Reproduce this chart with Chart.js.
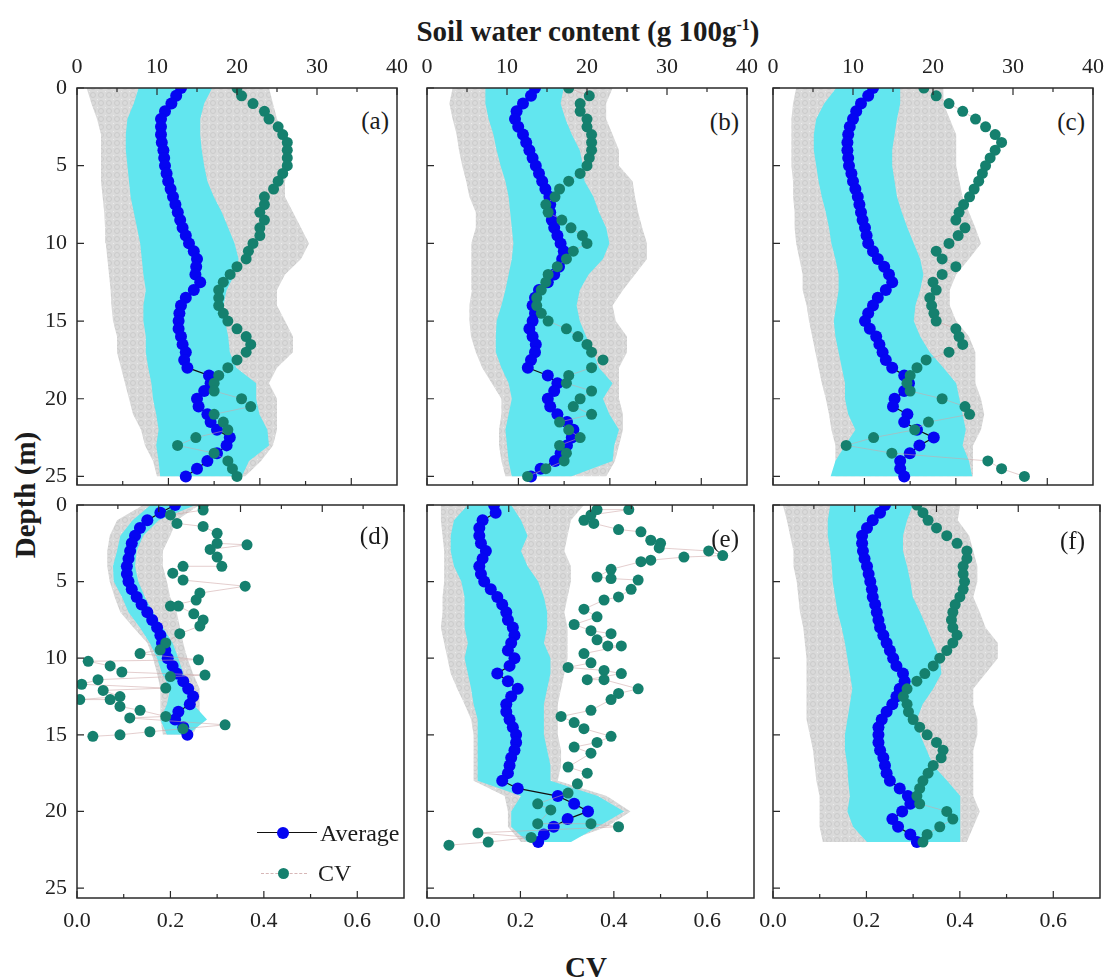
<!DOCTYPE html>
<html>
<head>
<meta charset="utf-8">
<script src="https://cdn.jsdelivr.net/npm/chart.js@4.4.1/dist/chart.umd.min.js"></script>
<style>
  body { margin: 0; background: #fff; }
  #wrap { position: relative; width: 1117px; height: 979px; overflow: hidden; font-family: "Liberation Serif", "Times New Roman", serif; color: #1c1c1c; }
  #wrap canvas { position: absolute; }
  .lab { position: absolute; white-space: nowrap; line-height: 1; }
  .bold { font-weight: bold; font-size: 29px; }
  .plab { font-size: 25px; width: 60px; text-align: right; }
  .leg { position: absolute; }
</style>
</head>
<body>
<div id="wrap">
  <div class="lab bold" style="left:588px; top:17px; transform:translateX(-50%);">Soil water content (g 100g<span style="font-size:16px; position:relative; top:-11px;">-1</span>)</div>
  <div class="lab bold" style="left:25px; top:495px; transform:translate(-50%,-50%) rotate(-90deg);">Depth (m)</div>
  <div class="lab bold" style="left:586px; top:953px; transform:translateX(-50%);">CV</div>
</div>
<script>
// depth grids (m)
const depthHalf = [0,0.5,1,1.5,2,2.5,3,3.5,4,4.5,5,5.5,6,6.5,7,7.5,8,8.5,9,9.5,10,10.5,11,11.5,12,12.5,13,13.5,14,14.5,15,15.5,16,16.5,17,17.5,18,18.5,19,19.5,20,20.5,21,21.5,22,22.5,23,23.5,24,24.5,25];
const depthStep = [0,1,2,3,4,5,6,7,8,9,10,11,12,13,14,15,16,17,18,19,20,21,22,23,24,25];

// axis ticks
const depthTicks = [0,5,10,15,20,25];
const wcTicks = [0,10,20,30,40];
const wcMinor = [5,15,25,35];
const cvTicks = [0,0.2,0.4,0.6];
const cvMinor = [0.1,0.3,0.5];

// (a)
const avgA = [13.0,12.4,11.8,11.0,10.5,10.5,10.5,10.6,10.8,10.9,11.0,11.2,11.4,11.7,12.0,12.3,12.6,12.9,13.2,13.6,14.0,14.6,15.0,14.9,14.8,15.4,14.6,13.6,13.0,12.8,12.7,12.7,13.0,13.2,13.6,13.4,13.8,16.5,16.7,15.9,15.0,15.2,16.3,16.7,17.5,19.1,18.7,17.5,16.3,15.0,13.6];
const cvA = [0.35,0.36,0.385,0.41,0.42,0.44,0.45,0.46,0.46,0.46,0.46,0.45,0.44,0.43,0.41,0.41,0.40,0.41,0.40,0.40,0.385,0.375,0.37,0.35,0.335,0.32,0.31,0.31,0.31,0.32,0.33,0.35,0.37,0.38,0.37,0.35,0.33,0.31,0.30,0.30,0.36,0.38,0.30,0.32,0.33,0.26,0.22,0.30,0.33,0.34,0.35];
const sdLoA = [7.7,7.1,6.3,6.1,6.1,6.3,6.5,6.7,7.1,7.5,7.9,8.1,8.3,8.6,8.3,8.3,8.6,8.6,8.9,9.3,9.5,9.9,10.2,9.9,10.2,10.4];
const sdHiA = [16.9,15.9,15.4,15.4,15.6,15.9,16.3,17.1,18.1,18.9,19.7,20.2,19.7,18.7,18.3,18.5,18.9,19.1,19.9,22.4,22.4,22.8,23.8,24.0,21.5,20.6];
const allLoA = [1.2,1.8,2.5,3,3,3,3,3.2,3.4,3.5,3.6,3.8,4,4.2,4.3,4.5,5,5,5.5,6,6.5,7,8,8.5,9.5,10];
const allHiA = [24,24.5,25,26,26,26.5,26,26,27,28,29,28,26,25,25,26,27,27,25,24,25,25,25,24.5,23,21];

// (b)
const avgB = [13.5,13.0,12.0,11.2,11.0,11.4,12.0,12.4,12.8,13.2,13.6,14.0,14.4,14.8,15.3,15.4,15.4,15.6,15.9,16.3,16.7,17.1,16.9,16.5,15.9,15.1,14.0,13.5,13.2,13.5,13.2,12.8,13.2,13.6,13.5,13.0,12.6,15.1,16.3,15.9,15.1,15.4,16.3,17.5,18.3,18.1,17.5,16.7,16.0,14.2,13.0];
const cvB = [0.31,0.355,0.335,0.335,0.35,0.35,0.36,0.36,0.36,0.355,0.35,0.335,0.31,0.29,0.28,0.26,0.265,0.295,0.315,0.34,0.35,0.32,0.305,0.285,0.265,0.26,0.25,0.24,0.24,0.25,0.265,0.305,0.33,0.35,0.36,0.385,0.36,0.31,0.305,0.36,0.335,0.32,0.36,0.29,0.31,0.335,0.29,0.305,0.30,0.26,0.22];
const sdLoB = [7.3,7.3,7.7,8.3,8.7,9.2,9.8,10.2,10.4,10.6,10.8,10.6,10.2,9.8,9.3,8.7,8.6,8.6,9.3,10.2,10.6,10.2,9.8,10.0,10.2,10.6];
const sdHiB = [17.1,16.7,17.3,18.1,19.1,19.5,19.7,20.8,21.5,22.4,22.8,22.0,20.2,19.1,18.7,19.1,19.9,20.8,21.5,23.2,22.0,22.8,24.0,23.4,23.2,18.0];
const allLoB = [3.2,2.8,3.2,3.7,4.0,4.4,4.9,5.3,6.1,6.1,5.6,5.5,5.5,5.6,5.3,5.3,5.5,6.1,6.9,8.1,9.3,9.3,9.0,9.0,9.3,9.8];
const allHiB = [23.2,22.4,22.4,23.2,24,24,25.7,26,26.4,26.9,27.5,27.5,26,24.5,23.2,23.6,25,25,24,24,24,24.5,24.5,24,23.5,22.4];

// (c)
const avgC = [12.5,11.9,11.0,10.4,10.0,9.6,9.4,9.3,9.3,9.4,9.5,9.8,10.0,10.3,10.6,10.8,11.0,11.2,11.5,11.7,11.9,12.5,13.1,13.9,14.5,14.9,14.1,13.1,12.5,11.9,11.5,12.1,12.9,13.3,13.7,14.1,14.9,16.4,17.0,16.4,15.2,15.0,16.8,16.4,18.0,20.1,18.3,17.1,15.9,15.9,16.4];
const cvC = [0.33,0.357,0.385,0.415,0.443,0.465,0.486,0.50,0.486,0.475,0.465,0.458,0.45,0.44,0.43,0.417,0.407,0.40,0.42,0.405,0.385,0.357,0.37,0.40,0.37,0.35,0.357,0.343,0.347,0.352,0.357,0.40,0.407,0.415,0.385,0.335,0.315,0.30,0.293,0.30,0.37,0.42,0.43,0.34,0.31,0.22,0.16,0.26,0.47,0.50,0.55];
const sdLoC = [7.9,6.4,5.4,5.1,5.1,5.4,5.7,6.1,6.6,7.0,7.3,7.8,8.2,8.2,7.9,7.6,7.8,8.2,8.6,9.0,9.0,9.4,10.3,9.0,7.8,7.2];
const sdHiC = [15.9,15.9,15.5,15.2,14.9,14.9,15.2,15.5,16.1,16.8,17.6,18.4,18.8,18.4,17.8,17.6,18.4,19.6,21.3,22.9,23.3,23.7,24.1,23.7,24.5,24.9];
const allLoC = [2.9,2.5,2.3,2.3,2.3,2.3,2.5,2.5,2.7,2.7,2.9,3.3,3.7,3.7,4.2,4.5,4.9,5.3,5.7,6.1,6.6,7.0,7.3,7.8,7.8,7.8];
const allHiC = [21.3,21.3,22.1,22.9,22.9,22.9,23.3,23.7,24.5,25.3,26,24.5,22.9,22.1,22.1,22.9,24.5,25.3,25.3,25.3,26,26.4,26,25,25,25];

// (d)
const avgD = [12.0,10.2,8.6,7.7,7.1,6.7,6.5,6.3,6.1,6.1,6.3,6.7,7.3,7.9,8.6,9.2,9.8,10.2,10.4,10.8,11.1,11.7,12.2,13.0,13.6,14.2,13.8,12.4,12.0,13.0,13.5];
const cvDepthD = [0,0.33,0.65,1.2,1.4,1.85,2.5,2.6,2.9,3.4,4.0,4.0,4.45,4.9,5.3,5.75,6.2,6.6,6.6,7.1,7.5,7.9,8.4,9.0,9.45,9.7,10.1,10.2,10.5,10.9,11.1,11.2,11.4,11.7,11.95,12.1,12.5,12.7,12.7,13.15,13.4,13.8,13.9,14.35,14.6,14.8,15.0,15.1];
const cvD = [0.27,0.27,0.20,0.214,0.27,0.30,0.30,0.364,0.285,0.30,0.31,0.227,0.205,0.227,0.36,0.263,0.255,0.20,0.217,0.25,0.27,0.263,0.22,0.19,0.178,0.135,0.26,0.024,0.071,0.096,0.274,0.20,0.045,0.01,0.19,0.056,0.092,0.006,0.071,0.092,0.135,0.19,0.113,0.317,0.227,0.156,0.092,0.034];
const sdLoD = [9.0,6.8,5.3,4.9,4.4,4.5,5.5,6.3,7.7,8.9,9.8,10.4,11.4,11.0,10.2,11.0];
const sdHiD = [14.5,10.0,8.1,7.3,7.1,7.5,8.3,9.3,10.5,11.7,12.4,13.0,14.2,14.2,15.9,13.5];
const allLoD = [8.1,4.9,4.0,3.7,3.7,4.0,4.6,5.3,6.9,8.6,9.3,9.8,10.2,10.2,10.2,10.5];
const allHiD = [15.0,12.2,11.4,10.5,10.5,11.0,11.4,12.2,12.6,13.0,13.5,14.2,15,15,15,14.2];

// (e)
const avgE = [8.2,8.4,6.8,6.4,6.4,6.6,7.2,6.8,6.4,6.6,7.0,7.8,8.6,9.2,9.7,9.9,10.5,10.7,10.3,9.9,10.7,10.1,8.6,9.9,11.1,10.3,9.7,9.7,10.1,10.5,10.9,10.9,10.7,10.3,10.1,9.9,9.2,11.1,16.0,18.0,19.7,17.2,15.5,14.3,13.6];
const cvDepthE = [0.3,0.3,0.65,1.0,1.2,1.6,1.75,2.3,2.5,2.8,3.0,3.3,3.4,3.6,3.7,4.2,4.7,4.8,4.9,5.5,6.0,6.2,6.8,7.3,7.8,8.2,8.4,8.8,9.2,9.2,9.7,10.3,10.6,10.8,11.0,11.4,11.4,12.0,12.3,12.7,13.4,13.8,14.2,14.6,15.1,15.5,15.8,16.2,17.1,17.5,18.2,18.8,19.5,19.9,20.8,20.8,21.0,21.4,21.7,22.0,22.2];
const cvE = [0.364,0.432,0.351,0.336,0.357,0.41,0.458,0.479,0.50,0.497,0.603,0.633,0.55,0.479,0.458,0.394,0.364,0.394,0.452,0.437,0.41,0.379,0.336,0.364,0.315,0.351,0.394,0.364,0.387,0.416,0.336,0.351,0.302,0.379,0.416,0.343,0.379,0.452,0.41,0.394,0.351,0.287,0.315,0.336,0.394,0.364,0.315,0.351,0.302,0.343,0.322,0.302,0.237,0.265,0.237,0.351,0.41,0.109,0.223,0.131,0.047];
const sdLoE = [5.0,3.3,2.9,2.9,3.3,4.2,4.6,4.6,4.6,5.0,4.6,5.0,5.4,5.7,6.2,6.2,6.2,6.2,6.2,11.5,10.3,10.3,12.3];
const sdHiE = [10.3,11.5,12.3,11.5,12.3,13.6,14.3,14.7,14.7,14.3,15.1,15.1,14.7,14.3,14.3,14.3,14.7,15.1,15.1,20.9,24.1,20.9,17.6];
const allLoE = [1.7,1.7,1.9,2.1,2.1,2.1,1.9,1.9,1.7,2.1,2.5,2.9,3.7,4.6,5.4,5.7,5.7,5.7,5.7,9.5,9.9,9.9,11.5];
const allHiE = [19.2,17.6,17.2,16.8,17.6,17.6,17.2,16.8,17.2,17.2,17.2,16.8,16.4,16.0,16.0,16.0,16.4,16.4,16.0,22.0,24.9,22.0,16.8];

// (f)
const avgF = [13.7,13.1,12.2,11.5,10.9,10.9,11.0,11.2,11.5,11.7,11.9,12.1,12.2,12.5,12.7,12.9,13.1,13.5,13.9,14.3,14.7,15.1,15.9,16.1,15.5,15.1,14.6,13.9,13.3,12.9,12.9,12.9,13.1,13.5,13.7,13.9,14.3,15.5,16.5,16.8,15.8,14.6,15.3,16.8,17.6];
const cvF = [0.308,0.321,0.332,0.35,0.372,0.394,0.415,0.415,0.407,0.407,0.41,0.407,0.40,0.39,0.385,0.382,0.385,0.394,0.385,0.372,0.357,0.343,0.325,0.308,0.287,0.279,0.287,0.29,0.30,0.314,0.33,0.35,0.364,0.36,0.343,0.332,0.321,0.314,0.308,0.314,0.372,0.385,0.357,0.33,0.321];
const sdLoF = [7.0,6.7,6.7,7.0,7.2,7.3,7.6,7.9,8.4,8.8,9.1,9.4,9.7,9.4,9.1,8.8,8.8,9.1,9.2,9.4,9.1,9.8,11.5];
const sdHiF = [17.1,16.4,15.9,15.9,16.4,16.8,17.1,18.0,18.8,19.6,20.4,20.6,19.6,18.3,17.6,18.0,18.8,19.6,21.3,22.9,22.9,22.9,22.9];
const allLoF = [1.2,1.7,2.1,2.5,2.5,2.9,3.1,3.3,3.7,3.9,4.1,4.1,4.1,4.1,4.1,4.5,4.9,5.1,5.3,5.7,5.7,5.7,6.1];
const allHiF = [22.9,22.6,24,24.5,25,25,24.5,25.3,26,27.5,27.5,26,24.5,24.5,25,25,24.5,24.5,24.5,24.5,25.3,24.5,23.7];

const FONT = '"Liberation Serif", "Times New Roman", serif';
const BLUE = '#0505f2', CYAN = '#62e6ef', TEAL = '#15806e';

const panels = [
  { tag: '(a)', left: 77, top: 88, bottom: 485, yMax: 25.55, avg: avgA, avgDepth: depthHalf, cv: cvA, cvDepth: depthHalf, sdLo: sdLoA, sdHi: sdHiA, allLo: allLoA, allHi: allHiA, n: 26, showY: true, showTop: true, showCv: false, tagY: 120 },
  { tag: '(b)', left: 427, top: 88, bottom: 485, yMax: 25.55, avg: avgB, avgDepth: depthHalf, cv: cvB, cvDepth: depthHalf, sdLo: sdLoB, sdHi: sdHiB, allLo: allLoB, allHi: allHiB, n: 26, showY: false, showTop: true, showCv: false, tagY: 121 },
  { tag: '(c)', left: 773, top: 88, bottom: 485, yMax: 25.55, avg: avgC, avgDepth: depthHalf, cv: cvC, cvDepth: depthHalf, sdLo: sdLoC, sdHi: sdHiC, allLo: allLoC, allHi: allHiC, n: 26, showY: false, showTop: true, showCv: false, tagY: 121 },
  { tag: '(d)', left: 77, top: 505, bottom: 898, yMax: 25.65, avg: avgD, avgDepth: depthHalf.slice(0, 31), cv: cvD, cvDepth: cvDepthD, sdLo: sdLoD, sdHi: sdHiD, allLo: allLoD, allHi: allHiD, n: 16, showY: true, showTop: false, showCv: true, tagY: 535 },
  { tag: '(e)', left: 427, top: 505, bottom: 898, yMax: 25.65, avg: avgE, avgDepth: depthHalf.slice(0, 45), cv: cvE, cvDepth: cvDepthE, sdLo: sdLoE, sdHi: sdHiE, allLo: allLoE, allHi: allHiE, n: 23, showY: false, showTop: false, showCv: true, tagY: 538 },
  { tag: '(f)', left: 773, top: 505, bottom: 898, yMax: 25.65, avg: avgF, avgDepth: depthHalf.slice(0, 45), cv: cvF, cvDepth: depthHalf.slice(0, 45), sdLo: sdLoF, sdHi: sdHiF, allLo: allLoF, allHi: allHiF, n: 23, showY: false, showTop: false, showCv: true, tagY: 540 }
];

const PW = 327, PADL = 60, PADR = 12, PADV = 45;
const wrap = document.getElementById('wrap');

// speckled grey fill for the individual profiles
const tile = document.createElement('canvas');
tile.width = 8; tile.height = 8;
const tc = tile.getContext('2d');
tc.fillStyle = '#dadada'; tc.fillRect(0, 0, 8, 8);
tc.strokeStyle = '#cbcbcb'; tc.lineWidth = 1;
tc.beginPath(); tc.arc(4, 4, 2.5, 0, Math.PI * 2); tc.stroke();
tc.fillStyle = '#ececec'; tc.fillRect(0, 0, 1, 1);
const greyFill = tc.createPattern(tile, 'repeat');

const pts = (depths, vals) => vals.map((v, i) => ({ x: v, y: depths[i] }));

const framePlugin = {
  id: 'frame',
  afterDraw(chart) {
    const { ctx, chartArea: a, scales } = chart;
    ctx.save();
    ctx.strokeStyle = '#2a2a2a';
    ctx.lineWidth = 1.5;
    ctx.strokeRect(a.left, a.top, a.right - a.left, a.bottom - a.top);
    ctx.lineWidth = 1.2;
    ctx.beginPath();
    depthTicks.forEach(v => {
      const y = scales.y.getPixelForValue(v);
      ctx.moveTo(a.left, y); ctx.lineTo(a.left + 7, y);
    });
    wcTicks.forEach(v => {
      const x = scales.xTop.getPixelForValue(v);
      ctx.moveTo(x, a.top); ctx.lineTo(x, a.top + 7);
    });
    wcMinor.forEach(v => {
      const x = scales.xTop.getPixelForValue(v);
      ctx.moveTo(x, a.top); ctx.lineTo(x, a.top + 4);
    });
    cvTicks.forEach(v => {
      const x = scales.xCV.getPixelForValue(v);
      ctx.moveTo(x, a.bottom); ctx.lineTo(x, a.bottom - 7);
    });
    cvMinor.forEach(v => {
      const x = scales.xCV.getPixelForValue(v);
      ctx.moveTo(x, a.bottom); ctx.lineTo(x, a.bottom - 4);
    });
    ctx.stroke();
    ctx.restore();
  }
};

const tickFont = { family: FONT, size: 22 };

panels.forEach(p => {
  // panel tag, kept behind the chart so points can cover it
  const t = document.createElement('div');
  t.className = 'lab plab';
  t.textContent = p.tag;
  t.style.left = (p.left + PW - 15 - 60) + 'px';
  t.style.top = (p.tagY - 12) + 'px';
  wrap.appendChild(t);

  const W = PW + PADL + PADR, H = (p.bottom - p.top) + 2 * PADV;
  const cnv = document.createElement('canvas');
  cnv.width = W; cnv.height = H;
  cnv.style.left = (p.left - PADL) + 'px';
  cnv.style.top = (p.top - PADV) + 'px';
  cnv.style.width = W + 'px';
  cnv.style.height = H + 'px';
  wrap.appendChild(cnv);

  const band = depthStep.slice(0, p.n);

  new Chart(cnv, {
    type: 'line',
    data: {
      datasets: [
        { label: 'all-lo', data: pts(band, p.allLo), xAxisID: 'xTop', yAxisID: 'y', borderWidth: 0, pointRadius: 0, fill: false, order: 6 },
        { label: 'all-hi', data: pts(band, p.allHi), xAxisID: 'xTop', yAxisID: 'y', borderWidth: 0, pointRadius: 0, fill: '-1', backgroundColor: greyFill, order: 5 },
        { label: 'sd-lo', data: pts(band, p.sdLo), xAxisID: 'xTop', yAxisID: 'y', borderWidth: 0, pointRadius: 0, fill: false, order: 4 },
        { label: 'sd-hi', data: pts(band, p.sdHi), xAxisID: 'xTop', yAxisID: 'y', borderWidth: 0, pointRadius: 0, fill: '-1', backgroundColor: CYAN, order: 3 },
        { label: 'Average', data: pts(p.avgDepth, p.avg), xAxisID: 'xTop', yAxisID: 'y', borderColor: '#111', borderWidth: 1.2,
          pointRadius: 6, pointBackgroundColor: BLUE, pointBorderWidth: 0, fill: false, order: 2 },
        { label: 'CV', data: pts(p.cvDepth, p.cv), xAxisID: 'xCV', yAxisID: 'y', borderColor: 'rgba(205,165,165,0.55)', borderWidth: 1,
          pointRadius: 5.5, pointBackgroundColor: TEAL, pointBorderWidth: 0, fill: false, order: 1 }
      ]
    },
    options: {
      indexAxis: 'y',
      responsive: false,
      animation: false,
      devicePixelRatio: 1,
      layout: { padding: { left: 0, right: PADR, top: 0, bottom: 0 } },
      plugins: { legend: { display: false }, tooltip: { enabled: false } },
      scales: {
        y: {
          axis: 'y', type: 'linear', position: 'left', reverse: true, min: 0, max: p.yMax,
          afterBuildTicks: s => { s.ticks = depthTicks.map(v => ({ value: v })); },
          afterFit: s => { s.width = PADL; },
          grid: { display: false, drawTicks: false }, border: { display: false },
          ticks: { display: p.showY, font: tickFont, color: '#222', padding: 10 }
        },
        xTop: {
          axis: 'x', type: 'linear', position: 'top', min: 0, max: 40,
          afterBuildTicks: s => { s.ticks = wcTicks.map(v => ({ value: v })); },
          afterFit: s => { s.height = PADV; },
          grid: { display: false, drawTicks: false }, border: { display: false },
          ticks: { display: p.showTop, font: tickFont, color: '#222', padding: 8, maxRotation: 0 }
        },
        xCV: {
          axis: 'x', type: 'linear', position: 'bottom', min: 0, max: 0.7,
          afterBuildTicks: s => { s.ticks = cvTicks.map(v => ({ value: v })); },
          afterFit: s => { s.height = PADV; },
          grid: { display: false, drawTicks: false }, border: { display: false },
          ticks: { display: p.showCv, font: tickFont, color: '#222', padding: 10, maxRotation: 0, callback: v => Number(v).toFixed(1) }
        }
      }
    },
    plugins: [framePlugin]
  });
});

// legend in panel (d)
wrap.insertAdjacentHTML('beforeend', `
  <div class="leg" style="left:257px; top:832px; width:60px; height:0; border-top:1.6px solid #111;"></div>
  <div class="leg" style="left:277px; top:827px; width:12px; height:12px; border-radius:50%; background:${BLUE};"></div>
  <div class="lab" style="left:320px; top:821px; font-size:24px;">Average</div>
  <div class="leg" style="left:261px; top:873px; width:46px; height:0; border-top:1px dashed rgba(205,165,165,0.8);"></div>
  <div class="leg" style="left:278px; top:868px; width:11px; height:11px; border-radius:50%; background:${TEAL};"></div>
  <div class="lab" style="left:318px; top:861px; font-size:24px;">CV</div>
`);
</script>
</body>
</html>
